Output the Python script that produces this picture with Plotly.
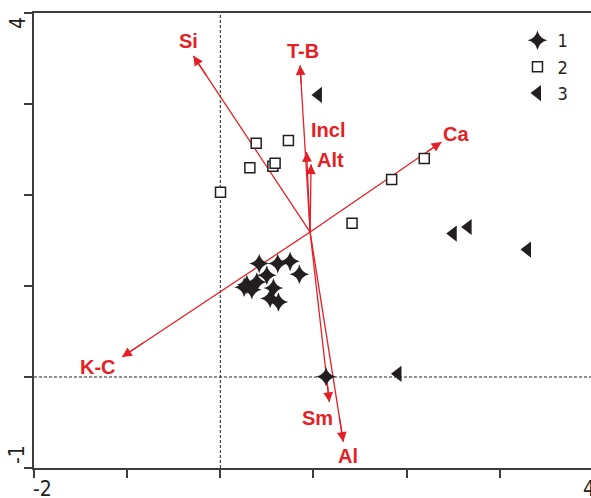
import plotly.graph_objects as go

# group 1 (stars)
g1_x = [0.417, 0.617, 0.749, 0.849, 0.499, 0.285, 0.392, 0.339, 0.256, 0.570, 0.535, 0.624, 1.135]
g1_y = [1.246, 1.246, 1.271, 1.129, 1.118, 1.015, 1.044, 0.960, 0.986, 0.978, 0.862, 0.824, 0.002]

# group 2 (open squares)
g2_x = [0.002, 0.385, 0.731, 0.317, 0.564, 0.588, 1.839, 2.189, 1.414]
g2_y = [2.03, 2.57, 2.60, 2.30, 2.315, 2.35, 2.17, 2.40, 1.69]

# group 3 (triangles)
g3_x = [1.053, 2.50, 2.66, 3.297, 1.907]
g3_y = [3.10, 1.576, 1.648, 1.40, 0.035]

# environmental vectors
vec_names = ["Si", "T-B", "Incl", "Alt", "Ca", "K-C", "Sm", "Al"]
vec_x = [-0.29, 0.856, 0.926, 0.974, 2.374, -1.055, 1.170, 1.320]
vec_y = [3.53, 3.425, 2.473, 2.337, 2.582, 0.22, -0.275, -0.714]
origin_x, origin_y = 0.964, 1.593

RED = "#e41f26"
INK = "#231f20"
NARROW = "Liberation Sans Narrow, Arial Narrow, DejaVu Sans Condensed, sans-serif"

# label offsets in pixels (dx, dy up)
label_shift = {
    "Si": (-5, 15), "T-B": (3, 14), "Incl": (21, 22), "Alt": (19, 4),
    "Ca": (15, 8), "K-C": (-24, -10), "Sm": (-12, -16), "Al": (5, -14),
}

fig = go.Figure()

# vector shafts (below the symbols)
sx, sy = [], []
for x, y in zip(vec_x, vec_y):
    sx += [origin_x, x, None]
    sy += [origin_y, y, None]
fig.add_trace(go.Scatter(x=sx, y=sy, mode="lines", line=dict(color=RED, width=1.3),
                         showlegend=False, hoverinfo="skip"))

fig.add_trace(go.Scatter(
    x=g1_x, y=g1_y, mode="markers", name="1",
    marker=dict(symbol="star-diamond", size=14, color=INK, line=dict(width=0))
))
fig.add_trace(go.Scatter(
    x=g2_x, y=g2_y, mode="markers", name="2",
    marker=dict(symbol="square", size=10, color="white", line=dict(color=INK, width=1.5))
))
fig.add_trace(go.Scatter(
    x=g3_x, y=g3_y, mode="markers", name="3",
    marker=dict(symbol="triangle-left", size=14, color=INK, line=dict(width=0))
))

# arrow heads + labels
for name, x, y in zip(vec_names, vec_x, vec_y):
    tx = x - 0.12 * (x - origin_x)
    ty = y - 0.12 * (y - origin_y)
    fig.add_annotation(x=x, y=y, ax=tx, ay=ty, xref="x", yref="y", axref="x", ayref="y",
                       text="", showarrow=True, arrowhead=2, arrowsize=1.5,
                       arrowwidth=1.3, arrowcolor=RED, standoff=0)
    dx, dy = label_shift[name]
    fig.add_annotation(x=x, y=y, xref="x", yref="y", text=name, showarrow=False,
                       xshift=dx, yshift=dy,
                       font=dict(family="Liberation Sans, Arial, sans-serif", size=20, color=RED, weight="bold"))

# zero reference lines
fig.add_shape(type="line", x0=0, x1=0, y0=-1, y1=4, xref="x", yref="y", layer="below",
              line=dict(color=INK, width=1, dash="3px,2px"))
fig.add_shape(type="line", x0=-2, x1=4, y0=0, y1=0, xref="x", yref="y", layer="below",
              line=dict(color=INK, width=1, dash="3px,2px"))

# end tick labels
fig.add_annotation(x=-2, y=-1, xref="x", yref="y", text="-2", showarrow=False,
                   xshift=8, yshift=-21, font=dict(family=NARROW, size=21, color=INK))
fig.add_annotation(x=1, y=-1, xref="paper", yref="y", text="4", showarrow=False,
                   xanchor="left", xshift=-10, yshift=-21, font=dict(family=NARROW, size=21, color=INK))
fig.add_annotation(x=-2, y=4, xref="x", yref="y", text="4", showarrow=False, textangle=-90,
                   xshift=-16, yshift=-10, font=dict(family=NARROW, size=21, color=INK))
fig.add_annotation(x=-2, y=-1, xref="x", yref="y", text="-1", showarrow=False, textangle=-90,
                   xshift=-17, yshift=13, font=dict(family=NARROW, size=21, color=INK))

axis_common = dict(showgrid=False, zeroline=False, showline=True, linecolor="#3c3c3c",
                   linewidth=1.5, ticks="outside", ticklen=8, tickwidth=1.5,
                   tickcolor="#3c3c3c", dtick=1, tick0=0, showticklabels=False,
                   automargin=False)

fig.update_layout(
    width=591, height=498,
    margin=dict(l=34, r=0, t=13, b=30, autoexpand=False),
    plot_bgcolor="white", paper_bgcolor="white",
    xaxis=dict(range=[-2, 3.979], mirror=True, **axis_common),
    yaxis=dict(range=[-1, 4], **axis_common),
    legend=dict(x=0.868, y=0.98, xanchor="left", yanchor="top",
                font=dict(family=NARROW, size=18, color=INK),
                bgcolor="rgba(0,0,0,0)"),
    showlegend=True,
)

# drop the default page margin so the figure sits at the window's top-left corner
fig.write_html("out.html", config={"displayModeBar": False},
               post_script="document.body.style.margin='0';")
